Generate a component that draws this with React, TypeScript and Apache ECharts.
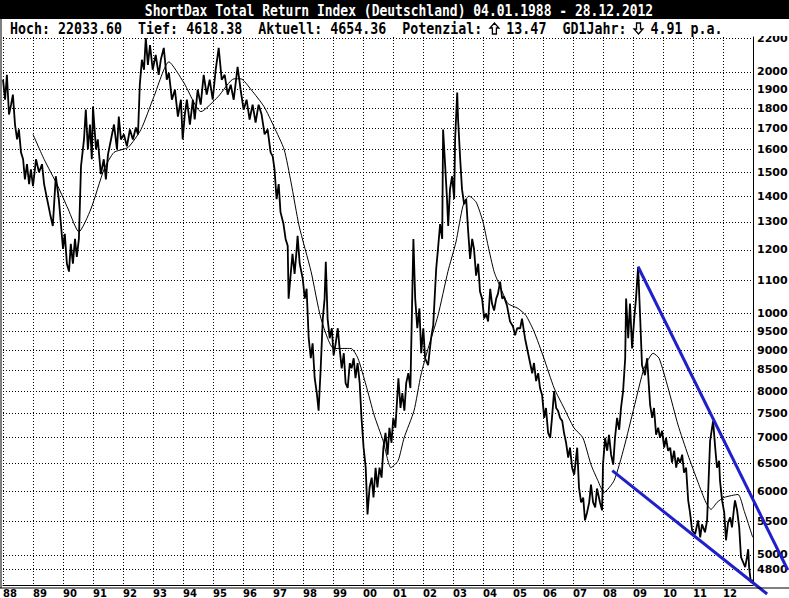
import React, { useEffect, useRef } from "react";
import * as echarts from "echarts";

const titleText = "ShortDax Total Return Index (Deutschland) 04.01.1988 - 28.12.2012";
// arrows are drawn as shapes in the two blank cells ("Potenzial:   13.47", "GD1Jahr:   4.91")
const statsText = "Hoch: 22033.60  Tief: 4618.38  Aktuell: 4654.36  Potenzial:   13.47  GD1Jahr:   4.91 p.a.";
const arrowUpCell = 60;
const arrowDownCell = 78;

const priceDates = [
  1988.00,1988.07,1988.13,1988.20,1988.27,1988.33,1988.40,1988.47,1988.53,1988.60,
  1988.67,1988.73,1988.80,1988.87,1988.93,1989.00,1989.10,1989.20,1989.30,1989.37,
  1989.47,1989.57,1989.66,1989.76,1989.86,1989.93,1990.00,1990.06,1990.13,1990.20,
  1990.26,1990.33,1990.40,1990.46,1990.53,1990.60,1990.70,1990.76,1990.83,1990.90,
  1990.96,1991.00,1991.10,1991.16,1991.26,1991.36,1991.43,1991.50,1991.60,1991.70,
  1991.80,1991.86,1991.93,1992.03,1992.13,1992.23,1992.33,1992.43,1992.50,1992.56,
  1992.63,1992.70,1992.76,1992.83,1992.90,1992.99,1993.09,1993.19,1993.26,1993.36,
  1993.46,1993.53,1993.63,1993.73,1993.83,1993.93,1993.99,1994.06,1994.13,1994.23,
  1994.33,1994.39,1994.49,1994.59,1994.69,1994.79,1994.89,1994.99,1995.09,1995.19,
  1995.29,1995.39,1995.49,1995.59,1995.69,1995.82,1995.92,1996.02,1996.12,1996.22,
  1996.32,1996.42,1996.52,1996.62,1996.72,1996.82,1996.92,1996.99,1997.05,1997.12,
  1997.19,1997.25,1997.35,1997.42,1997.49,1997.52,1997.59,1997.65,1997.72,1997.79,
  1997.82,1997.89,1997.99,1998.06,1998.12,1998.19,1998.26,1998.32,1998.39,1998.46,
  1998.52,1998.59,1998.66,1998.72,1998.76,1998.82,1998.89,1998.96,1999.02,1999.09,
  1999.16,1999.22,1999.29,1999.36,1999.42,1999.49,1999.56,1999.62,1999.69,1999.75,
  1999.82,1999.89,1999.95,2000.02,2000.09,2000.15,2000.22,2000.29,2000.35,2000.42,
  2000.48,2000.55,2000.62,2000.68,2000.75,2000.82,2000.88,2000.95,2001.01,2001.08,
  2001.18,2001.25,2001.31,2001.38,2001.44,2001.51,2001.58,2001.68,2001.74,2001.81,
  2001.88,2001.94,2002.01,2002.07,2002.17,2002.27,2002.34,2002.44,2002.50,2002.57,
  2002.64,2002.67,2002.74,2002.80,2002.84,2002.90,2002.97,2003.04,2003.07,2003.14,
  2003.17,2003.24,2003.30,2003.37,2003.44,2003.50,2003.57,2003.64,2003.70,2003.77,
  2003.84,2003.90,2003.97,2004.04,2004.10,2004.17,2004.24,2004.30,2004.37,2004.44,
  2004.50,2004.57,2004.64,2004.70,2004.80,2004.90,2005.00,2005.07,2005.14,2005.24,
  2005.30,2005.40,2005.47,2005.57,2005.64,2005.70,2005.77,2005.84,2005.90,2005.97,
  2006.04,2006.10,2006.17,2006.24,2006.30,2006.37,2006.44,2006.50,2006.57,2006.64,
  2006.70,2006.77,2006.84,2006.90,2006.97,2007.04,2007.14,2007.20,2007.27,2007.34,
  2007.40,2007.47,2007.54,2007.60,2007.67,2007.74,2007.80,2007.90,2007.97,2008.00,
  2008.07,2008.14,2008.20,2008.27,2008.34,2008.40,2008.47,2008.54,2008.60,2008.67,
  2008.74,2008.77,2008.84,2008.90,2008.97,2009.04,2009.10,2009.17,2009.24,2009.30,
  2009.40,2009.47,2009.57,2009.64,2009.70,2009.77,2009.84,2009.90,2009.97,2010.04,
  2010.10,2010.17,2010.24,2010.30,2010.37,2010.44,2010.50,2010.57,2010.64,2010.70,
  2010.77,2010.84,2010.90,2010.97,2011.07,2011.17,2011.24,2011.30,2011.40,2011.47,
  2011.57,2011.67,2011.74,2011.80,2011.87,2011.90,2011.97,2012.04,2012.10,2012.17,
  2012.24,2012.30,2012.37,2012.40,2012.47,2012.54,2012.60,2012.67,2012.74,2012.80,
  2012.84,2012.87,2012.93,2012.99
];

const priceValues = [
  19550,18460,19830,17690,18200,18730,17190,16470,16950,15870,
  15560,14690,15340,14490,15120,14400,15560,14990,15340,14490,
  13880,13300,12850,14820,13880,12920,12030,12560,11530,11270,
  12210,11530,12380,11760,12380,15250,16470,17940,16010,17190,
  15560,18100,16010,16470,14910,15560,14690,15780,16470,17190,
  16010,17590,16470,16710,16150,16950,16470,17040,16710,19270,
  20700,20120,22030,20400,21600,20120,20990,19830,20700,21420,
  19550,19940,18460,19000,17590,18460,16470,17690,18460,17190,
  18460,17440,19000,18200,19830,18730,19550,18460,20120,21420,
  19550,19830,18730,19270,18460,20290,19000,17940,18460,17440,
  18200,17290,18200,17690,16710,16950,15870,15690,15120,13880,
  14490,13370,12920,12380,12140,10430,11200,11860,11200,12030,
  12490,11530,11050,10430,10730,9310,8790,9175,8300,7955,
  7560,8540,9850,10430,11595,9850,9310,9580,8866,9175,
  9580,9040,8540,8917,8185,8070,8666,8540,8790,8300,
  8670,8185,7406,6800,6420,5615,6065,6240,5894,6420,
  6065,6420,6240,6800,7096,6664,7200,6896,7406,7200,
  8300,7620,7955,7560,8185,8422,8070,12380,10430,9580,
  10140,8920,9580,8790,8616,9310,9659,11365,12030,12920,
  12380,16950,15250,13880,12850,14280,14820,13880,16470,18840,
  17440,15560,14280,13683,13880,12740,11690,12380,12030,11141,
  11530,10643,10430,9850,9995,9770,10730,10285,10080,10430,
  10580,10952,10430,10490,10225,9770,9630,9387,9580,9580,
  9850,9310,9040,8670,8420,8670,8232,8420,8070,7909,
  7406,7620,7096,6995,7406,8000,7620,7560,7406,7344,
  7096,6896,6607,6800,6420,6294,6800,6065,5811,5894,
  5520,5647,5811,6117,5811,5728,6048,5811,5680,6476,
  6995,6740,7056,6664,6476,6995,7406,7158,7620,8000,
  8790,10430,9310,10285,9040,9850,10430,11430,9850,8616,
  8374,8790,7687,7406,7620,7056,7200,6995,7137,6800,
  6995,6740,6800,6514,6740,6420,6607,6514,6664,6330,
  6420,5844,5647,5364,5304,5520,5258,5457,5334,5520,
  6936,7344,6800,6420,6551,6187,5844,5647,5213,5488,
  5567,5410,5728,5844,5680,5410,4966,4896,4826,4966,
  5081,4826,4618,4654
];

const maDates = [
  1989.00,1989.37,1989.83,1990.17,1990.53,1990.93,1991.37,1991.70,1992.17,1992.60,
  1993.03,1993.53,1994.03,1994.60,1995.17,1995.70,1995.93,1996.27,1996.70,1997.03,
  1997.37,1997.60,1997.87,1998.27,1998.60,1999.03,1999.60,1999.83,2000.10,2000.37,
  2000.67,2000.93,2001.17,2001.37,2001.70,2001.93,2002.17,2002.50,2002.83,2003.10,
  2003.33,2003.53,2003.77,2004.00,2004.17,2004.37,2004.60,2004.83,2005.17,2005.43,
  2005.70,2006.03,2006.37,2006.70,2007.03,2007.33,2007.60,2007.83,2008.03,2008.37,
  2008.70,2009.03,2009.37,2009.67,2009.87,2010.17,2010.50,2010.83,2011.17,2011.43,
  2011.60,2011.80,2012.03,2012.50,2012.70,2012.99
];
const maValues = [
  16710,15560,14400,13490,12630,13490,15120,15870,16100,16950,
  18620,20580,19380,17840,18620,19600,19600,19000,18100,17090,
  16010,14570,12850,11270,9850,9040,9040,8790,8138,7470,
  6936,6420,6551,6995,7560,8374,9040,9938,11270,12276,
  13600,14000,13760,12997,12137,11270,10730,10285,10140,9938,
  9495,8790,8070,7620,7200,6995,6476,6187,5979,6187,
  6800,7620,8540,8917,8790,8070,7260,6664,6152,5811,
  5696,5811,5894,5945,5680,5258
];

const upperTrendDates = [2009.17, 2014.16];
const upperTrendValues = [11430, 4786];
const lowerTrendDates = [2008.31, 2013.47];
const lowerTrendValues = [6366, 4468];

const yTickValues = [22000, 20000, 19000, 18000, 17000, 16000, 15000, 14000, 13000, 12000, 11000, 10000,
  9500, 9000, 8500, 8000, 7500, 7000, 6500, 6000, 5500, 5000, 4800];
const yTickLabels = ["2200", "2000", "1900", "1800", "1700", "1600", "1500", "1400", "1300", "1200", "1100", "1000",
  "9500", "9000", "8500", "8000", "7500", "7000", "6500", "6000", "5500", "5000", "4800"];

const xMinYear = 1988;
const xMaxYear = 2013;
const yMin = 4585;
const yMax = 22100;

function arrowShape(cx: number, top: number, up: boolean) {
  const h = 11, hw = 4.5, sw = 2, headH = 5;
  const pts = up
    ? [[cx, top], [cx + hw, top + headH], [cx + sw, top + headH], [cx + sw, top + h], [cx - sw, top + h], [cx - sw, top + headH], [cx - hw, top + headH]]
    : [[cx, top + h], [cx + hw, top + h - headH], [cx + sw, top + h - headH], [cx + sw, top], [cx - sw, top], [cx - sw, top + h - headH], [cx - hw, top + h - headH]];
  return { type: "polygon", z: 101, shape: { points: pts }, style: { fill: "#fff", stroke: "#000", lineWidth: 1.3 } };
}

export default function App() {
  const ref = useRef<HTMLDivElement>(null);
  useEffect(() => {
    document.body.style.margin = "0";
    const chart = echarts.init(ref.current as HTMLDivElement, null, { renderer: "svg" });
    const pair = (d: number[], v: number[]) => d.map((x, i) => [x, v[i]]);
    const dotted = { color: "#000", width: 1, type: [1, 2] as number[] };
    const monoFont = (size: number) => `bold ${size}px "DejaVu Sans Mono"`;
    const statsSize = 13.3;
    const charW = statsSize * 0.602;
    const statsLeft = 10;
    const option: any = {
      animation: false,
      backgroundColor: "#fff",
      grid: { left: 2, right: 36, top: 37, bottom: 10 },
      xAxis: {
        type: "value",
        min: xMinYear,
        max: xMaxYear,
        interval: 1,
        axisLine: { show: true, lineStyle: { color: "#000", width: 1 } },
        axisTick: { show: false },
        axisLabel: {
          showMaxLabel: false,
          align: "left",
          margin: 3,
          color: "#000",
          fontWeight: "bold",
          fontSize: 10,
          fontFamily: "DejaVu Sans",
          formatter: (v: number) => (v >= xMaxYear ? "" : String(Math.round(v) % 100).padStart(2, "0")),
        },
        splitLine: { show: true, lineStyle: dotted },
      },
      yAxis: {
        type: "log",
        logBase: 10,
        min: yMin,
        max: yMax,
        position: "right",
        axisLine: { show: true, onZero: false, lineStyle: { color: "#000", width: 1 } },
        axisTick: { show: false },
        axisLabel: { show: false },
        splitLine: { show: false },
      },
      series: [
        {
          type: "line",
          data: pair(priceDates, priceValues),
          symbol: "none",
          lineStyle: { color: "#000", width: 1.8 },
          z: 3,
          markLine: {
            silent: true,
            symbol: "none",
            animation: false,
            lineStyle: dotted,
            label: {
              show: true,
              position: "end",
              distance: 4,
              color: "#000",
              fontWeight: "bold",
              fontSize: 11,
              fontFamily: "DejaVu Sans",
              formatter: (p: any) => yTickLabels[p.dataIndex],
            },
            emphasis: { disabled: true },
            data: yTickValues.map((v) => ({ yAxis: v })),
          },
        },
        {
          type: "line",
          data: pair(maDates, maValues),
          symbol: "none",
          smooth: 0.2,
          lineStyle: { color: "#000", width: 1 },
          z: 3,
        },
      ],
      graphic: [
        { type: "rect", z: 100, shape: { x: 0, y: 0, width: 789, height: 19 }, style: { fill: "#000" } },
        { type: "rect", z: 100, shape: { x: 0, y: 19, width: 789, height: 17 }, style: { fill: "#fff" } },
        {
          type: "group", x: 399, y: 10, scaleY: 1.25, z: 101,
          children: [{ type: "text", z: 101, style: { text: titleText, x: 0, y: 0, textAlign: "center", textVerticalAlign: "middle", fill: "#fff", font: monoFont(13) } }],
        },
        {
          type: "group", x: statsLeft, y: 28.5, scaleY: 1.2, z: 101,
          children: [{ type: "text", z: 101, style: { text: statsText, x: 0, y: 0, textAlign: "left", textVerticalAlign: "middle", fill: "#000", font: monoFont(statsSize) } }],
        },
        arrowShape(statsLeft + (arrowUpCell + 0.5) * charW, 23, true),
        arrowShape(statsLeft + (arrowDownCell + 0.5) * charW, 23, false),
        { type: "line", z: 100, shape: { x1: 1, y1: 19, x2: 1, y2: 588 }, style: { stroke: "#000", lineWidth: 1 } },
        { type: "line", z: 100, shape: { x1: 0, y1: 588, x2: 789, y2: 588 }, style: { stroke: "#000", lineWidth: 1 } },
      ],
    };
    chart.setOption(option);
    // trend lines: endpoints converted through the chart's own x / log-y scales
    const toPx = (d: number[], v: number[]) => d.map((x, i) => chart.convertToPixel({ gridIndex: 0 }, [x, v[i]]) as number[]);
    const up = toPx(upperTrendDates, upperTrendValues);
    const lo = toPx(lowerTrendDates, lowerTrendValues);
    const trendStyle = { stroke: "#1f1fcc", lineWidth: 3, lineCap: "butt" };
    chart.setOption({
      graphic: [
        { id: "upperTrend", type: "line", z: 50, shape: { x1: up[0][0], y1: up[0][1], x2: up[1][0], y2: up[1][1] }, style: trendStyle },
        { id: "lowerTrend", type: "line", z: 50, shape: { x1: lo[0][0], y1: lo[0][1], x2: lo[1][0], y2: lo[1][1] }, style: trendStyle },
      ],
    });
    return () => chart.dispose();
  }, []);
  return <div ref={ref} style={{ position: "absolute", left: 0, top: 0, width: 789, height: 598 }} />;
}
